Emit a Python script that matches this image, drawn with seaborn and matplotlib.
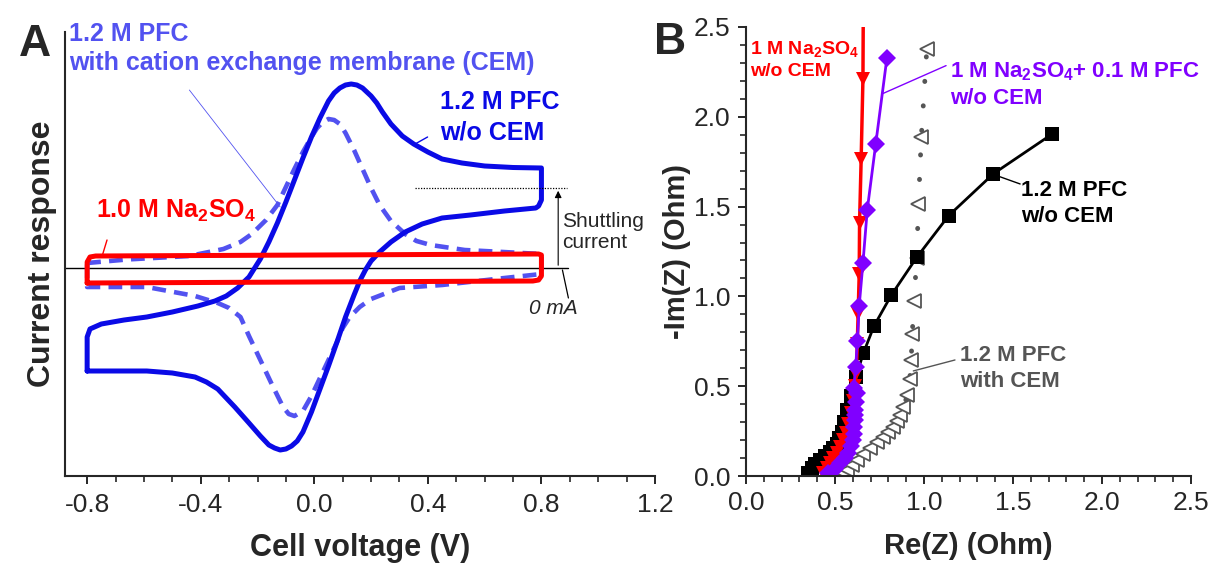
import matplotlib
matplotlib.use("Agg")
import matplotlib.pyplot as plt
import seaborn as sns
from matplotlib.ticker import MultipleLocator, FormatStrFormatter

# ---- panel A: cyclic voltammograms (current in arbitrary units) ----
volt_pfc = [-0.80, -0.80, -0.79, -0.75, -0.67, -0.59, -0.50, -0.41, -0.35, -0.31, -0.27, -0.23,
            -0.19, -0.16, -0.13, -0.10, -0.07, -0.04, -0.01, 0.02, 0.05, 0.07, 0.09, 0.11,
            0.13, 0.15, 0.17, 0.20, 0.22, 0.24, 0.27, 0.31, 0.35, 0.40, 0.45, 0.52,
            0.60, 0.70, 0.80, 0.80, 0.79, 0.78, 0.67, 0.55, 0.45, 0.38, 0.32, 0.27, 0.23,
            0.20, 0.18, 0.16, 0.14, 0.11, 0.08, 0.05, 0.02, -0.01, -0.04, -0.06, -0.08,
            -0.10, -0.12, -0.14, -0.16, -0.19, -0.23, -0.28, -0.34, -0.38, -0.42,
            -0.50, -0.59, -0.77, -0.80]
cur_pfc = [-10.3, -6.9, -6.1, -5.6, -5.2, -4.9, -4.4, -3.8, -3.3, -2.8, -2.0, -0.9,
           0.9, 2.6, 4.5, 6.6, 8.8, 11.0, 13.1, 15.0, 16.7, 17.5, 18.0, 18.3,
           18.4, 18.3, 18.0, 17.2, 16.5, 15.6, 14.4, 13.2, 12.4, 11.6, 10.9, 10.5,
           10.2, 10.05, 10.0, 6.8, 6.2, 6.0, 5.7, 5.3, 5.0, 4.4, 3.6, 2.6, 1.6,
           0.7, -0.2, -1.3, -2.7, -4.9, -7.4, -9.8, -12.1, -14.4, -16.4, -17.3, -17.8,
           -18.1, -18.2, -18.0, -17.7, -16.8, -15.5, -13.9, -12.1, -11.4, -10.9,
           -10.5, -10.3, -10.3, -10.3]

volt_cem = [-0.80, -0.66, -0.44, -0.32, -0.26, -0.22, -0.17, -0.13, -0.10, -0.07, -0.04, -0.01,
            0.01, 0.03, 0.05, 0.07, 0.09, 0.11, 0.14, 0.17, 0.20, 0.23, 0.27, 0.32, 0.36,
            0.41, 0.53, 0.80, 0.80, 0.67, 0.45, 0.30, 0.20, 0.16, 0.125, 0.10, 0.08, 0.05,
            0.02, -0.01, -0.04, -0.07, -0.09, -0.11, -0.15, -0.19, -0.23, -0.26, -0.30, -0.34,
            -0.42, -0.59, -0.80, -0.80]
cur_cem = [0.5, 0.85, 1.2, 1.9, 2.6, 3.4, 4.8, 6.3, 8.1, 9.9, 11.6, 13.1,
           14.0, 14.6, 14.9, 14.8, 14.4, 13.5, 11.8, 9.9, 8.0, 6.3, 4.7, 3.4, 2.7,
           2.3, 1.8, 1.4, -0.6, -1.0, -1.7, -2.0, -3.1, -3.9, -4.9, -6.0, -7.4, -9.2,
           -11.0, -12.8, -14.3, -14.8, -14.6, -13.9, -11.6, -9.2, -6.8, -4.9, -4.0, -3.5,
           -2.8, -1.9, -1.9, 0.5]

volt_na = [-0.80, -0.80, -0.79, -0.77, 0.79, 0.80, 0.80, 0.79, 0.77, -0.80]
cur_na = [-1.5, 0.6, 1.1, 1.2, 1.4, 1.3, -0.8, -1.2, -1.3, -1.5]

shuttle_level = 8.0

# ---- panel B: Nyquist plots ----
re_na = [0.435, 0.453, 0.47, 0.49, 0.51, 0.528, 0.545, 0.56, 0.575, 0.59, 0.60, 0.61,
         0.62, 0.625, 0.63, 0.636, 0.638, 0.647, 0.657, 0.66]
im_na = [0.015, 0.043, 0.07, 0.098, 0.13, 0.163, 0.2, 0.24, 0.29, 0.35, 0.42, 0.5,
         0.57, 0.733, 0.904, 1.124, 1.41, 1.767, 2.213, 2.8]

re_mix = [0.46, 0.50, 0.53, 0.555, 0.575, 0.59, 0.60, 0.605, 0.607, 0.61, 0.612, 0.615,
          0.618, 0.622, 0.605, 0.616, 0.626, 0.636, 0.657, 0.681, 0.729, 0.792]
im_mix = [0.015, 0.04, 0.07, 0.10, 0.13, 0.165, 0.2, 0.235, 0.274, 0.31, 0.34, 0.367,
          0.41, 0.46, 0.49, 0.606, 0.753, 0.948, 1.185, 1.48, 1.85, 2.33]

re_pfc = [0.35, 0.369, 0.39, 0.416, 0.445, 0.472, 0.49, 0.51, 0.525, 0.539, 0.551, 0.566,
          0.588, 0.618, 0.659, 0.719, 0.817, 0.959, 1.139, 1.39, 1.72]
im_pfc = [0.018, 0.043, 0.065, 0.089, 0.112, 0.135, 0.155, 0.18, 0.21, 0.247, 0.302, 0.367,
          0.447, 0.553, 0.683, 0.835, 1.008, 1.217, 1.45, 1.683, 1.904]

re_cem = [0.547, 0.566, 0.595, 0.622, 0.66, 0.697, 0.735, 0.772, 0.80, 0.828, 0.848, 0.865,
          0.884, 0.907, 0.92, 0.928, 0.934, 0.944, 0.959, 0.969, 0.985, 1.016]
im_cem = [0.015, 0.033, 0.06, 0.089, 0.12, 0.154, 0.187, 0.219, 0.245, 0.274, 0.305, 0.34,
          0.382, 0.452, 0.538, 0.647, 0.793, 0.974, 1.215, 1.516, 1.89, 2.38]

# colours
BLUE = "#0a0ae6"
BLUE_L = "#5252f0"
RED = "#ff0000"
PURPLE = "#8000ff"
GRAY = "#555555"

sns.set_style("ticks")
plt.rcParams['font.family'] = ['Liberation Sans', 'DejaVu Sans']
plt.rcParams['mathtext.fontset'] = 'custom'
plt.rcParams['mathtext.rm'] = 'Liberation Sans'
plt.rcParams['mathtext.bf'] = 'Liberation Sans:bold'
plt.rcParams['mathtext.default'] = 'bf'
plt.rcParams['axes.unicode_minus'] = False

fig = plt.figure(figsize=(12.13, 5.65), dpi=100)
axA = fig.add_axes([65 / 1213, 1 - 476 / 565, (655 - 65) / 1213, (476 - 32) / 565])
axB = fig.add_axes([746 / 1213, 1 - 476 / 565, (1191 - 746) / 1213, (476 - 27) / 565])

# ---------------- panel A ----------------
axA.axhline(0, xmin=0, xmax=(0.895 + 0.878) / (1.2 + 0.878), color='black', lw=1)
sns.lineplot(x=volt_cem, y=cur_cem, sort=False, estimator=None, ax=axA,
             color=BLUE_L, lw=3.3, linestyle=(0, (3, 1.8)))
sns.lineplot(x=volt_pfc, y=cur_pfc, sort=False, estimator=None, ax=axA,
             color=BLUE, lw=3.6, solid_joinstyle='round')
sns.lineplot(x=volt_na, y=cur_na, sort=False, estimator=None, ax=axA,
             color=RED, lw=3.6, solid_joinstyle='round')

axA.set_xlim(-0.878, 1.2)
axA.set_ylim(-20.8, 23.6)
axA.xaxis.set_major_locator(MultipleLocator(0.4))
axA.xaxis.set_minor_locator(MultipleLocator(0.1))
axA.xaxis.set_major_formatter(FormatStrFormatter('%.1f'))
axA.set_yticks([])
for s in ['top', 'right']:
    axA.spines[s].set_visible(False)
for s in ['left', 'bottom']:
    axA.spines[s].set_linewidth(1.5)
axA.tick_params(axis='x', which='major', length=6, width=1.4, labelsize=19, pad=6)
axA.tick_params(axis='x', which='minor', length=4, width=1.2)
axA.set_xlabel('Cell voltage (V)', fontsize=22, fontweight='bold', labelpad=12)
axA.set_ylabel('Current response', fontsize=23, fontweight='bold', labelpad=6)

# shuttling current annotation
axA.plot([0.355, 0.89], [shuttle_level, shuttle_level], color='black', lw=0.9, ls=(0, (1, 1.2)))
axA.annotate('', xy=(0.859, shuttle_level), xytext=(0.859, 0),
             arrowprops=dict(arrowstyle='-|>', color='black', lw=0.8, mutation_scale=10))
axA.text(0.874, 3.6, 'Shuttling\ncurrent', fontsize=15, ha='left', va='center', linespacing=1.15)
axA.text(0.843, -4.0, '0 mA', fontsize=15, style='italic', ha='center', va='center')
axA.plot([0.874, 0.895], [-0.2, -3.0], color='black', lw=0.9)

# labels
axA.text(-0.863, 24.6, '1.2 M PFC\nwith cation exchange membrane (CEM)', color=BLUE_L,
         fontsize=18, fontweight='bold', ha='left', va='top', linespacing=1.25)
axA.plot([-0.44, -0.12], [17.8, 6.1], color=BLUE_L, lw=0.6)
axA.text(0.444, 15.1, '1.2 M PFC\nw/o CEM', color=BLUE, fontsize=18, fontweight='bold',
         ha='left', va='center', linespacing=1.35)
axA.plot([0.399, 0.355], [13.1, 12.4], color=BLUE, lw=1)
axA.text(-0.768, 5.7, r'1.0 M Na$_2$SO$_4$', color=RED, fontsize=18, fontweight='bold',
         ha='left', va='center')
axA.plot([-0.73, -0.745], [2.8, 1.4], color=RED, lw=1)

# ---------------- panel B ----------------
sns.lineplot(x=re_cem, y=im_cem, sort=False, estimator=None, ax=axB, color=GRAY, lw=3.5,
             linestyle=(0, (0.05, 5)), dash_capstyle='round')
sns.lineplot(x=re_cem, y=im_cem, sort=False, estimator=None, ax=axB, lw=0,
             marker='<', markersize=10, markerfacecolor='white', markeredgecolor=GRAY,
             markeredgewidth=1.3, color=GRAY)
sns.lineplot(x=re_pfc, y=im_pfc, sort=False, estimator=None, ax=axB, color='black', lw=2,
             marker='s', markersize=9.5, markeredgewidth=0)
sns.lineplot(x=re_na, y=im_na, sort=False, estimator=None, ax=axB, color=RED, lw=2.5,
             marker='v', markersize=10.5, markeredgewidth=0)
sns.lineplot(x=re_mix, y=im_mix, sort=False, estimator=None, ax=axB, color=PURPLE, lw=2,
             marker='D', markersize=9.5, markeredgewidth=0)

axB.set_xlim(0, 2.5)
axB.set_ylim(0, 2.5)
for a in (axB.xaxis, axB.yaxis):
    a.set_major_locator(MultipleLocator(0.5))
    a.set_minor_locator(MultipleLocator(0.1))
    a.set_major_formatter(FormatStrFormatter('%.1f'))
for s in ['top', 'right']:
    axB.spines[s].set_visible(False)
for s in ['left', 'bottom']:
    axB.spines[s].set_linewidth(1.5)
axB.tick_params(which='major', length=6, width=1.4, labelsize=19, pad=5)
axB.tick_params(which='minor', length=4, width=1.2)
axB.set_xlabel('Re(Z) (Ohm)', fontsize=21, fontweight='bold', labelpad=12)
axB.set_ylabel('-Im(Z) (Ohm)', fontsize=21, fontweight='bold', labelpad=2)

axB.text(0.022, 2.32, '1 M Na$_2$SO$_4$\nw/o CEM', color=RED, fontsize=14, fontweight='bold',
         ha='left', va='center', linespacing=1.35)
axB.text(1.146, 2.18, '1 M Na$_2$SO$_4$+ 0.1 M PFC\nw/o CEM', color=PURPLE, fontsize=16,
         fontweight='bold', ha='left', va='center', linespacing=1.3, clip_on=False)
axB.plot([1.124, 0.77], [2.285, 2.13], color=PURPLE, lw=1)
axB.text(1.545, 1.517, '1.2 M PFC\nw/o CEM', color='black', fontsize=16, fontweight='bold',
         ha='left', va='center', linespacing=1.3)
axB.plot([1.54, 1.396], [1.626, 1.677], color='black', lw=1)
axB.text(1.202, 0.60, '1.2 M PFC\nwith CEM', color=GRAY, fontsize=16, fontweight='bold',
         ha='left', va='center', linespacing=1.3)
axB.plot([1.174, 0.94], [0.646, 0.585], color=GRAY, lw=1)

fig.text(35 / 1213, 1 - 45 / 565, 'A', fontsize=32, fontweight='bold', ha='center', va='center')
fig.text(670 / 1213, 1 - 43 / 565, 'B', fontsize=32, fontweight='bold', ha='center', va='center')

fig.savefig('out.png', dpi=100)
